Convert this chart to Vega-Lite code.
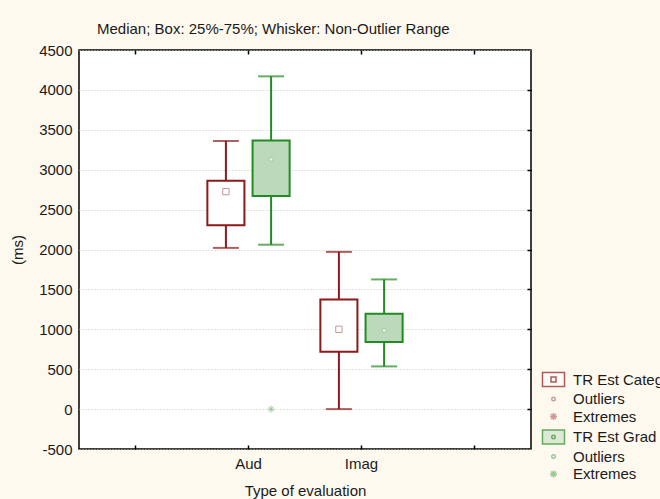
{
  "$schema": "https://vega.github.io/schema/vega-lite/v6.json",
  "width": 452,
  "height": 399,
  "autosize": {"type": "none"},
  "padding": {"left": 79, "top": 50, "right": 129, "bottom": 50},
  "background": "#fdf9ef",
  "title": {"text": "Median; Box: 25%-75%; Whisker: Non-Outlier Range", "font": "Liberation Sans", "fontSize": 15, "fontWeight": "normal", "color": "#1a1a1a", "anchor": "start", "frame": "group", "dx": 18, "offset": 6},
  "config": {
    "font": "Liberation Sans",
    "view": {"fill": "white", "stroke": "#000", "strokeWidth": 1.5},
    "axis": {"labelFont": "Liberation Sans", "labelFontSize": 15, "labelColor": "#1a1a1a", "titleFont": "Liberation Sans", "titleFontSize": 15, "titleFontWeight": "normal", "titleColor": "#1a1a1a", "domain": false, "tickColor": "#000", "tickWidth": 1.5}
  },
  "datasets": {
    "boxes": [
      {"eval": "Aud", "series": "TR Est Categ", "lo": 2020, "q1": 2305, "med": 2725, "q3": 2860, "hi": 3360},
      {"eval": "Aud", "series": "TR Est Grad", "lo": 2060, "q1": 2670, "med": 3130, "q3": 3365, "hi": 4170},
      {"eval": "Imag", "series": "TR Est Categ", "lo": 0, "q1": 720, "med": 1000, "q3": 1375, "hi": 1970},
      {"eval": "Imag", "series": "TR Est Grad", "lo": 535, "q1": 840, "med": 985, "q3": 1195, "hi": 1625}
    ],
    "extremes": [
      {"eval": "Aud", "series": "TR Est Grad", "value": 0, "key": "Extremes|Grad"}
    ]
  },
  "resolve": {"axis": {"x": "independent", "y": "independent"}},
  "layer": [
    {
      "data": {"name": "boxes"},
      "mark": {"type": "rule", "strokeWidth": 2},
      "encoding": {
        "x": {"field": "eval", "type": "nominal", "scale": {"domain": ["L", "Aud", "Imag", "R"], "paddingInner": 0, "paddingOuter": 0},
              "axis": {"orient": "bottom", "title": "Type of evaluation", "labelExpr": "datum.label == 'L' || datum.label == 'R' ? '' : datum.label", "labelAngle": 0, "tickSize": -4, "labelPadding": 11, "titlePadding": 12}},
        "xOffset": {"field": "series", "type": "nominal", "scale": {"domain": ["TR Est Categ", "TR Est Grad"], "paddingInner": 0.18, "paddingOuter": 0.34}},
        "y": {"field": "lo", "type": "quantitative", "scale": {"domain": [-500, 4500], "nice": false, "zero": false},
              "axis": {"orient": "left", "title": "(ms)", "values": [-500, 0, 500, 1000, 1500, 2000, 2500, 3000, 3500, 4000, 4500], "labelExpr": "'' + datum.value", "ticks": false, "labelPadding": 7, "titlePadding": 13, "grid": true, "gridColor": "#c4c4c4", "gridDash": [1, 2], "gridWidth": 1}},
        "y2": {"field": "hi"},
        "color": {"condition": {"test": "datum.series == 'TR Est Categ'", "value": "#8b1a1a"}, "value": "#228b22"}
      }
    },
    {
      "data": {"name": "boxes"},
      "mark": {"type": "tick", "thickness": 2, "size": 26, "orient": "horizontal"},
      "encoding": {
        "x": {"field": "eval", "type": "nominal", "axis": null},
        "xOffset": {"field": "series", "type": "nominal"},
        "y": {"field": "lo", "type": "quantitative", "axis": null},
        "color": {"condition": {"test": "datum.series == 'TR Est Categ'", "value": "#8b1a1a"}, "value": "#228b22"}
      }
    },
    {
      "data": {"name": "boxes"},
      "mark": {"type": "tick", "thickness": 2, "size": 26, "orient": "horizontal"},
      "encoding": {
        "x": {"field": "eval", "type": "nominal", "axis": null},
        "xOffset": {"field": "series", "type": "nominal"},
        "y": {"field": "hi", "type": "quantitative", "axis": null},
        "color": {"condition": {"test": "datum.series == 'TR Est Categ'", "value": "#8b1a1a"}, "value": "#228b22"}
      }
    },
    {
      "data": {"name": "boxes"},
      "mark": {"type": "bar", "strokeWidth": 2},
      "encoding": {
        "x": {"field": "eval", "type": "nominal", "axis": {"orient": "top", "labels": false, "title": null, "tickSize": -4}},
        "xOffset": {"field": "series", "type": "nominal"},
        "y": {"field": "q1", "type": "quantitative", "axis": {"orient": "right", "labels": false, "title": null, "grid": false, "tickSize": -4, "values": [0, 500, 1000, 1500, 2000, 2500, 3000, 3500, 4000]}},
        "y2": {"field": "q3"},
        "fill": {"condition": {"test": "datum.series == 'TR Est Categ'", "value": "#ffffff"}, "value": "#bcdabb"},
        "stroke": {"condition": {"test": "datum.series == 'TR Est Categ'", "value": "#8b1a1a"}, "value": "#228b22"}
      }
    },
    {
      "data": {"name": "boxes"},
      "mark": {"type": "point", "filled": false, "strokeWidth": 1},
      "encoding": {
        "x": {"field": "eval", "type": "nominal", "axis": null},
        "xOffset": {"field": "series", "type": "nominal"},
        "y": {"field": "med", "type": "quantitative", "axis": null},
        "shape": {"condition": {"test": "datum.series == 'TR Est Categ'", "value": "square"}, "value": "circle"},
        "size": {"condition": {"test": "datum.series == 'TR Est Categ'", "value": 40}, "value": 16},
        "fill": {"value": "#ffffff"},
        "stroke": {"condition": {"test": "datum.series == 'TR Est Categ'", "value": "#b06a6a"}, "value": "#8fc08f"}
      }
    },
    {
      "data": {"name": "extremes"},
      "mark": {"type": "point", "filled": false, "strokeWidth": 1, "size": 100},
      "encoding": {
        "x": {"field": "eval", "type": "nominal", "axis": null},
        "xOffset": {"field": "series", "type": "nominal"},
        "y": {"field": "value", "type": "quantitative", "axis": null},
        "shape": {"field": "key", "type": "nominal",
          "scale": {"domain": ["TR Est Categ", "Outliers|Categ", "Extremes|Categ", "TR Est Grad", "Outliers|Grad", "Extremes|Grad"],
                    "range": ["M-2.2,-1.4H2.2V1.4H-2.2Z M-0.5,-0.5H0.5V0.5H-0.5Z", "M-0.35,0A0.35,0.35 0 1,1 0.35,0A0.35,0.35 0 1,1 -0.35,0Z", "M-0.7,0H0.7M0,-0.7V0.7M-0.5,-0.5L0.5,0.5M-0.5,0.5L0.5,-0.5", "M-2.2,-1.4H2.2V1.4H-2.2Z M-0.35,0A0.35,0.35 0 1,1 0.35,0A0.35,0.35 0 1,1 -0.35,0Z", "M-0.35,0A0.35,0.35 0 1,1 0.35,0A0.35,0.35 0 1,1 -0.35,0Z", "M-0.7,0H0.7M0,-0.7V0.7M-0.5,-0.5L0.5,0.5M-0.5,0.5L0.5,-0.5"]},
          "legend": {"title": null, "orient": "none", "legendX": 467, "legendY": 322, "symbolSize": 100, "symbolStrokeWidth": 1.5, "labelFont": "Liberation Sans", "labelFontSize": 15, "labelColor": "#1a1a1a", "labelOffset": 12, "rowPadding": 1.5, "padding": 0, "labelExpr": "split(datum.label, '|')[0]"}},
        "stroke": {"field": "key", "type": "nominal",
          "scale": {"domain": ["TR Est Categ", "Outliers|Categ", "Extremes|Categ", "TR Est Grad", "Outliers|Grad", "Extremes|Grad"],
                    "range": ["#8b1a1a", "#b07878", "#c07070", "#228b22", "#6fb06f", "#6fb86f"]},
          "legend": {"title": null, "orient": "none", "legendX": 467, "legendY": 322, "symbolSize": 100, "symbolStrokeWidth": 1.5, "labelFont": "Liberation Sans", "labelFontSize": 15, "labelColor": "#1a1a1a", "labelOffset": 12, "rowPadding": 1.5, "padding": 0, "labelExpr": "split(datum.label, '|')[0]"}},
        "fill": {"field": "key", "type": "nominal",
          "scale": {"domain": ["TR Est Categ", "Outliers|Categ", "Extremes|Categ", "TR Est Grad", "Outliers|Grad", "Extremes|Grad"],
                    "range": ["#ffffff", "transparent", "transparent", "#bcdabb", "transparent", "transparent"]},
          "legend": {"title": null, "orient": "none", "legendX": 467, "legendY": 322, "symbolSize": 100, "symbolStrokeWidth": 1.5, "labelFont": "Liberation Sans", "labelFontSize": 15, "labelColor": "#1a1a1a", "labelOffset": 12, "rowPadding": 1.5, "padding": 0, "labelExpr": "split(datum.label, '|')[0]"}}
      }
    }
  ]
}
